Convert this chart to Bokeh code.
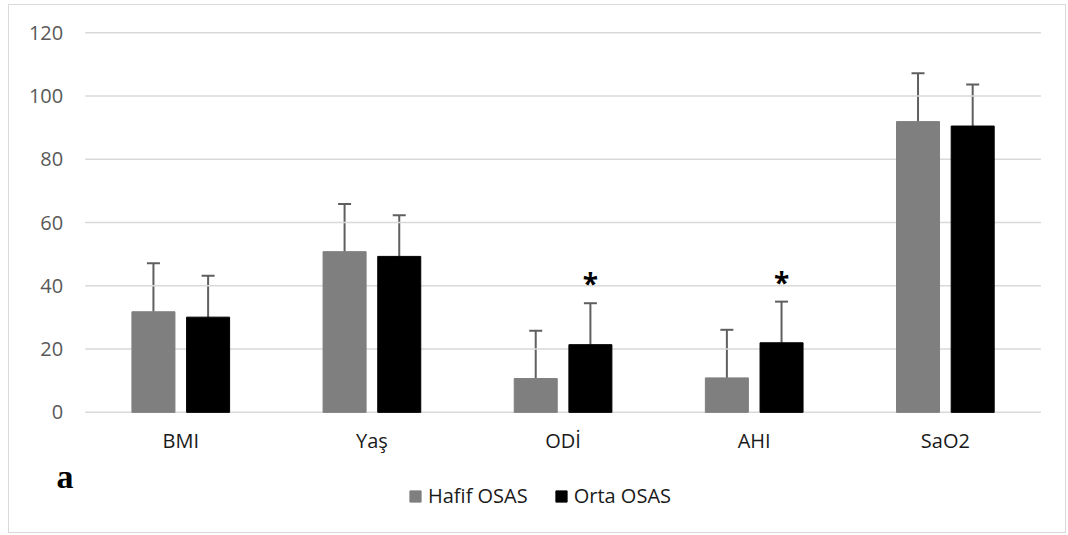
from bokeh.plotting import figure
from bokeh.models import (Range1d, Whisker, TeeHead, ColumnDataSource, LinearAxis,
                          Legend, LegendItem, Label, FixedTicker)
from bokeh.transform import dodge
from bokeh.core.properties import value
from bokeh.embed import file_html
from bokeh.resources import INLINE

categories = ["BMI", "Yaş", "ODİ", "AHI", "SaO2"]
series_names = ["Hafif OSAS", "Orta OSAS"]
hafif_mean = [31.8, 50.8, 10.7, 10.9, 91.9]
hafif_sd = [15.3, 15.1, 15.1, 15.2, 15.3]
orta_mean = [30.1, 49.3, 21.4, 22.0, 90.5]
orta_sd = [13.1, 13.0, 13.1, 13.0, 13.1]
star_categories = ["ODİ", "AHI"]
y_ticks = [0, 20, 40, 60, 80, 100, 120]

GRAY = "#7f7f7f"
BLACK = "#000000"
FONT = "Open Sans"

pos = [i + 0.5 for i in range(len(categories))]
src = ColumnDataSource(dict(
    x=pos,
    h=hafif_mean, h_up=[m + s for m, s in zip(hafif_mean, hafif_sd)],
    o=orta_mean, o_up=[m + s for m, s in zip(orta_mean, orta_sd)],
))

n = len(categories)
p = figure(width=1058, height=529,
           x_range=Range1d(-0.396, n + 0.139), y_range=Range1d(-38.6, 128.6),
           output_backend="svg", toolbar_location=None,
           min_border_left=0, min_border_right=0, min_border_top=0, min_border_bottom=0,
           x_axis_location=None, y_axis_location=None)
p.styles = {"border": "1.5px solid #d9d9d9", "box-sizing": "border-box",
            "margin": "4px 0 0 8px"}
p.outline_line_color = None
p.background_fill_color = "white"
p.border_fill_color = "white"
p.xgrid.visible = False
p.ygrid.visible = False

# horizontal gridlines spanning the category area only
p.segment(x0=[0] * len(y_ticks), x1=[n] * len(y_ticks), y0=y_ticks, y1=y_ticks,
          line_color="#d9d9d9", line_width=1.5)

OFF = 0.143
W = 0.225
r1 = p.vbar(x=dodge("x", -OFF), top="h", bottom=0, width=W,
            source=src, fill_color=GRAY, line_color=GRAY)
r2 = p.vbar(x=dodge("x", OFF), top="o", bottom=0, width=W,
            source=src, fill_color=BLACK, line_color=BLACK)

for off, low, up in [(-OFF, "h", "h_up"), (OFF, "o", "o_up")]:
    wk = Whisker(base=dodge("x", off), lower=low, upper=up, source=src,
                 dimension="height", line_color="#5f5f5f", line_width=2,
                 upper_head=TeeHead(size=13, line_color="#5f5f5f", line_width=2),
                 lower_head=None)
    p.add_layout(wk)

star_idx = [categories.index(c) for c in star_categories]
star_y = [orta_mean[i] + orta_sd[i] + 6.3 for i in star_idx]
p.text(x=dodge("x", OFF), y="y", text="t",
       source=ColumnDataSource(dict(x=[pos[i] for i in star_idx], y=star_y,
                                    t=["*"] * len(star_idx))),
       text_font=value(FONT), text_font_size="28px", text_font_style="bold",
       text_align="center", text_baseline="alphabetic", text_color="black")

yaxis = LinearAxis(ticker=FixedTicker(ticks=y_ticks), fixed_location=0, bounds=(0, 120))
xaxis = LinearAxis(ticker=FixedTicker(ticks=pos), fixed_location=0,
                   major_label_overrides={pv: c for pv, c in zip(pos, categories)})
for ax in (xaxis, yaxis):
    ax.axis_line_color = None
    ax.major_tick_line_color = None
    ax.minor_tick_line_color = None
    ax.major_tick_out = 0
    ax.major_tick_in = 0
    ax.major_label_text_font = FONT
    ax.major_label_text_font_size = "20px"
yaxis.major_label_text_color = "#595959"
yaxis.major_label_standoff = 22
xaxis.major_label_text_color = "#1a1a1a"
xaxis.major_label_standoff = 15
p.add_layout(yaxis, "left")
p.add_layout(xaxis, "below")

legend = Legend(items=[LegendItem(label=series_names[0], renderers=[r1]),
                       LegendItem(label=series_names[1], renderers=[r2])],
                orientation="horizontal", location=(399, 25),
                label_text_font=FONT, label_text_font_size="20px", label_text_color="#1a1a1a",
                glyph_width=14, glyph_height=14, label_standoff=6, spacing=26,
                padding=0, margin=0, border_line_color=None, background_fill_alpha=0)
p.add_layout(legend, "center")

p.add_layout(Label(x=47, y=58, x_units="screen", y_units="screen", text="a",
                   text_font="Liberation Serif", text_font_style="bold",
                   text_baseline="alphabetic",
                   text_font_size="34px", text_color="black"))

open("out.html", "w").write(file_html(p, INLINE))
